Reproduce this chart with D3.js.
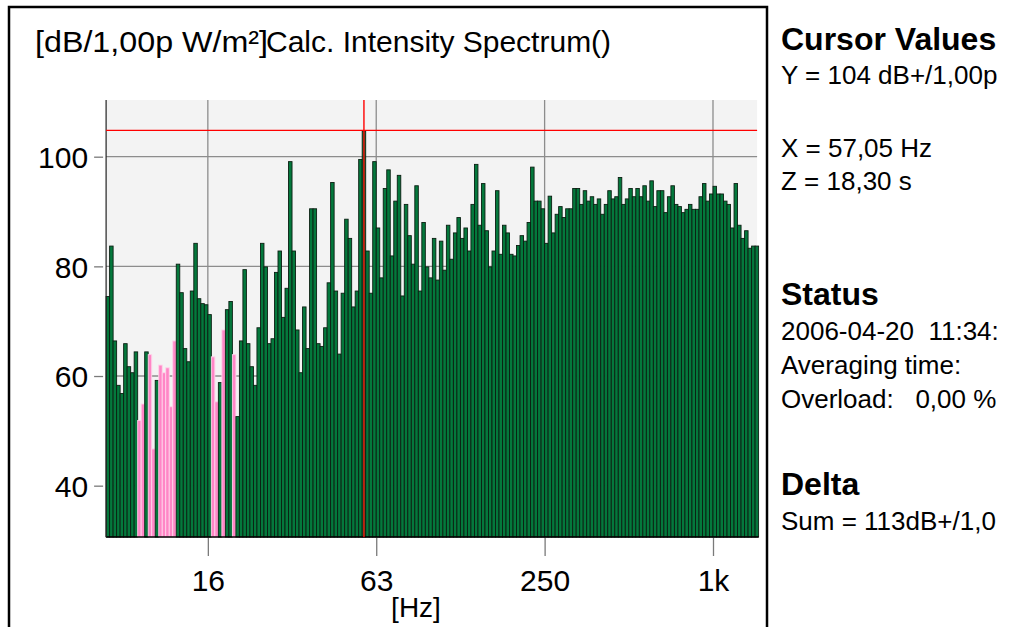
<!DOCTYPE html>
<html>
<head>
<meta charset="utf-8">
<script src="https://cdn.jsdelivr.net/npm/d3@7/dist/d3.min.js"></script>
<style>
  html, body { margin: 0; padding: 0; background: #fff; }
  svg { display: block; font-family: "Liberation Sans", Arial, sans-serif; }
  text { white-space: pre; }
</style>
</head>
<body>
<svg id="chart" width="1022" height="627"></svg>
<script>
// ---- DATA ----
// 1/24-octave band levels (dB re 1 pW/m²), lowest band first
const levels = [
  74.5, 83.7, 66.4, 58.3, 56.8, 65.9, 61.7, 60.6, 64.4, 51.9,
  54.9, 64.4, 63.9, 46.7, 59.2, 62.0, 60.6, 61.5, 54.4, 66.4,
  80.4, 75.2, 65.0, 62.6, 75.5, 84.2, 74.1, 73.2, 73.0, 71.2,
  63.5, 55.3, 58.8, 68.4, 72.1, 73.6, 63.9, 52.6, 66.4, 79.4,
  65.9, 61.7, 58.3, 68.8, 84.2, 79.9, 65.9, 66.8, 78.9, 82.8,
  70.7, 76.0, 99.1, 82.8, 68.4, 60.6, 72.6, 65.0, 90.5, 90.5,
  65.9, 65.4, 68.8, 77.0, 95.3, 75.5, 64.0, 75.1, 88.6, 85.1,
  72.6, 75.5, 99.5, 104.7, 82.8, 75.1, 99.1, 87.0, 77.9, 94.2,
  97.6, 81.9, 91.9, 96.6, 74.6, 91.3, 85.6, 80.4, 94.7, 75.5,
  88.0, 79.9, 77.9, 85.1, 77.5, 84.6, 79.3, 87.5, 81.3, 86.1,
  88.9, 85.1, 87.0, 82.8, 91.3, 98.6, 87.5, 95.1, 86.5, 79.9,
  82.8, 93.8, 82.2, 87.5, 86.1, 82.2, 81.9, 83.8, 85.6, 84.6,
  88.0, 98.1, 91.9, 91.9, 90.5, 84.2, 92.8, 86.1, 89.5, 90.9,
  88.9, 90.5, 90.5, 94.2, 94.2, 91.3, 93.8, 91.9, 92.7, 91.3,
  92.3, 89.5, 91.3, 93.8, 92.3, 92.7, 96.2, 91.3, 92.3, 94.2,
  92.7, 94.2, 92.7, 94.7, 91.9, 95.6, 90.9, 93.8, 93.8, 89.8,
  92.7, 94.7, 91.3, 90.9, 89.8, 90.4, 91.3, 90.4, 90.4, 92.7,
  95.1, 91.9, 93.2, 94.6, 93.2, 93.2, 91.9, 91.3, 87.0, 95.1,
  87.5, 85.1, 86.5, 83.3, 83.7, 83.7
];
// bands whose intensity is negative (drawn pink)
const negativeBands = [9, 10, 12, 13, 15, 16, 17, 18, 19, 30, 31, 33, 36];
// band numbers of the 1/24-octave (base-10) series, relative to 1 kHz
const firstBand = -173;
const lastBand = 12;
const bandsPerDecade = 80;

const yTicks = [40, 60, 80, 100];
const xTickValues = [15.85, 63.1, 251.2, 1000];
const xTickLabels = ["16", "63", "250", "1k"];

const cursorFreq = 57.05;
const cursorLevel = 104.8;

const titleLabel = "[dB/1,00p W/m²]";
const titleText = "Calc. Intensity Spectrum()";
const xAxisLabel = "[Hz]";

const panelLines = [
  { text: "Cursor Values", bold: true, y: 50 },
  { text: "Y = 104 dB+/1,00p", bold: false, y: 84 },
  { text: "X = 57,05 Hz", bold: false, y: 157 },
  { text: "Z = 18,30 s", bold: false, y: 190 },
  { text: "Status", bold: true, y: 305 },
  { text: "2006-04-20  11:34:", bold: false, y: 340 },
  { text: "Averaging time:", bold: false, y: 374 },
  { text: "Overload:   0,00 %", bold: false, y: 408 },
  { text: "Delta", bold: true, y: 495 },
  { text: "Sum = 113dB+/1,0", bold: false, y: 530 }
];

// ---- CHART ----
const svg = d3.select("#chart");
const plot = { left: 106.1, right: 758.6, top: 100, bottom: 537 };

const bandNumbers = d3.range(firstBand, lastBand + 1);
const bands = bandNumbers.map((n, i) => {
  const c = 1000 * Math.pow(10, (2 * n + 1) / (2 * bandsPerDecade));
  const half = Math.pow(10, 1 / (2 * bandsPerDecade));
  return { lo: c / half, hi: c * half, level: levels[i], neg: negativeBands.includes(i) };
});

const x = d3.scaleLog()
  .domain([bands[0].lo, bands[bands.length - 1].hi])
  .range([plot.left, plot.right]);
const y = d3.scaleLinear()
  .domain([30.64, 110.34])
  .range([plot.bottom, plot.top]);

// outer frame
svg.append("rect")
  .attr("x", 9).attr("y", 7)
  .attr("width", 758).attr("height", 640)
  .attr("fill", "none").attr("stroke", "#000").attr("stroke-width", 2.5);

// plot background
svg.append("rect")
  .attr("x", plot.left).attr("y", plot.top)
  .attr("width", plot.right - plot.left - 1.5).attr("height", plot.bottom - plot.top)
  .attr("fill", "#f3f3f3");

// grid
const grid = svg.append("g");
grid.selectAll("line.hy").data(yTicks).join("line")
  .attr("x1", plot.left).attr("x2", plot.right - 1.5)
  .attr("y1", d => y(d)).attr("y2", d => y(d))
  .attr("stroke", "#8c8c8c").attr("stroke-width", 1.3);
grid.selectAll("line.vx").data(xTickValues).join("line")
  .attr("x1", d => x(d)).attr("x2", d => x(d))
  .attr("y1", plot.top).attr("y2", plot.bottom)
  .attr("stroke", "#8c8c8c").attr("stroke-width", 1.3);

// bars
svg.append("g").selectAll("rect").data(bands).join("rect")
  .attr("x", d => x(d.lo))
  .attr("width", d => x(d.hi) - x(d.lo))
  .attr("y", d => y(d.level))
  .attr("height", d => plot.bottom - y(d.level))
  .attr("fill", d => d.neg ? "#ff86c6" : "#04783c")
  .attr("stroke", d => d.neg ? "#ffd3ea" : "#0b1f12")
  .attr("stroke-width", 0.9);

// axes (D3 axis generators, then restyled)
const yAxis = d3.axisLeft(y).tickValues(yTicks).tickSize(9).tickPadding(6).tickFormat(d3.format("d"));
const gy = svg.append("g").attr("transform", `translate(${plot.left - 3},0)`).call(yAxis);
gy.select(".domain").remove();
gy.selectAll(".tick line").attr("stroke", "#7a7a7a").attr("stroke-width", 1.3);
gy.selectAll(".tick text").attr("font-size", 30).attr("fill", "#000")
  .attr("font-family", "Liberation Sans, Arial, sans-serif").attr("dy", "0.36em");

const xAxis = d3.axisBottom(x).tickValues(xTickValues).tickSize(19).tickPadding(14)
  .tickFormat((d, i) => xTickLabels[i]);
const gx = svg.append("g").attr("transform", `translate(0,${plot.bottom})`).call(xAxis);
gx.select(".domain").remove();
gx.selectAll(".tick line").attr("stroke", "#7a7a7a").attr("stroke-width", 1.3);
gx.selectAll(".tick text").attr("font-size", 30).attr("fill", "#000")
  .attr("font-family", "Liberation Sans, Arial, sans-serif");

// axis lines
svg.append("line")
  .attr("x1", plot.left).attr("x2", plot.right)
  .attr("y1", plot.bottom).attr("y2", plot.bottom)
  .attr("stroke", "#000").attr("stroke-width", 1.6);
svg.append("line")
  .attr("x1", plot.left).attr("x2", plot.left)
  .attr("y1", plot.top).attr("y2", plot.bottom)
  .attr("stroke", "#222").attr("stroke-width", 1.2);

// cursor
svg.append("line")
  .attr("x1", plot.left).attr("x2", plot.right - 1.5)
  .attr("y1", y(cursorLevel)).attr("y2", y(cursorLevel))
  .attr("stroke", "#ff0000").attr("stroke-width", 1.2);
svg.append("line")
  .attr("x1", x(cursorFreq)).attr("x2", x(cursorFreq))
  .attr("y1", plot.top).attr("y2", plot.bottom)
  .attr("stroke", "#ff0000").attr("stroke-width", 1.4);

// titles
svg.append("text").attr("x", 35).attr("y", 52)
  .attr("font-size", 30).attr("textLength", 233).attr("lengthAdjust", "spacingAndGlyphs")
  .text(titleLabel);
svg.append("text").attr("x", 266).attr("y", 52)
  .attr("font-size", 30).text(titleText);
svg.append("text").attr("x", 416).attr("y", 617)
  .attr("text-anchor", "middle").attr("font-size", 28).text(xAxisLabel);

// right panel
svg.append("g").selectAll("text").data(panelLines).join("text")
  .attr("x", 781)
  .attr("y", d => d.y)
  .attr("font-size", d => d.bold ? 32 : 26)
  .attr("font-weight", d => d.bold ? "bold" : "normal")
  .text(d => d.text);
</script>
</body>
</html>
